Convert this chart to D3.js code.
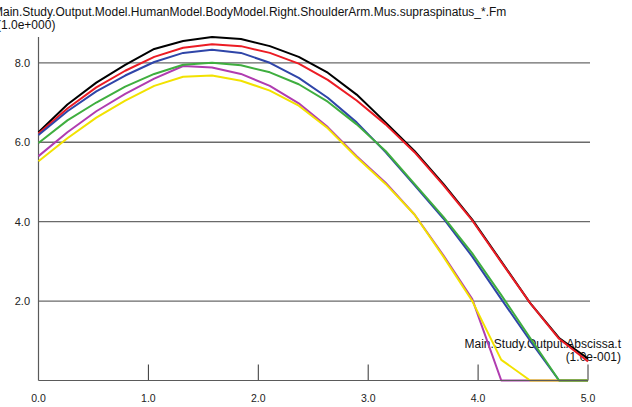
<!DOCTYPE html>
<html>
<head>
<meta charset="utf-8">
<script src="https://cdn.jsdelivr.net/npm/d3@7"></script>
<style>
  html, body { margin: 0; padding: 0; background: #fff; }
  svg { display: block; font-family: "Liberation Sans", Arial, sans-serif; }
</style>
</head>
<body>
<svg id="chart" width="632" height="407"></svg>
<script>
// Abscissa samples (units of 0.1 s)
const tValues = [0, 0.263, 0.526, 0.789, 1.053, 1.316, 1.579, 1.842, 2.105, 2.368,
                 2.632, 2.895, 3.158, 3.421, 3.684, 3.947, 4.211, 4.474, 4.737, 5.0];

// Muscle force traces, supraspinatus elements (1.0e+000)
const seriesBlack   = [6.25, 6.95, 7.50, 7.95, 8.35, 8.55, 8.65, 8.60, 8.42, 8.15,
                       7.75, 7.20, 6.50, 5.78, 4.95, 4.05, 3.00, 1.95, 1.07, 0.55];
const seriesRed     = [6.22, 6.85, 7.38, 7.80, 8.15, 8.38, 8.47, 8.42, 8.25, 7.98,
                       7.57, 7.05, 6.45, 5.75, 4.92, 4.03, 2.98, 1.95, 1.05, 0.48];
const seriesBlue    = [6.18, 6.78, 7.28, 7.68, 8.02, 8.25, 8.33, 8.25, 8.00, 7.62,
                       7.12, 6.50, 5.75, 4.92, 4.08, 3.12, 2.05, 1.00, 0, 0];
const seriesMagenta = [5.65, 6.25, 6.78, 7.22, 7.60, 7.92, 7.88, 7.72, 7.42, 6.98,
                       6.38, 5.65, 4.98, 4.18, 3.15, 2.05, 0, 0, 0, 0];
const seriesYellow  = [5.52, 6.10, 6.62, 7.05, 7.42, 7.65, 7.68, 7.55, 7.30, 6.92,
                       6.35, 5.62, 4.95, 4.18, 3.12, 2.00, 0.52, 0, 0, 0];
const seriesGreen   = [5.98, 6.55, 7.00, 7.40, 7.72, 7.95, 8.00, 7.94, 7.76, 7.46,
                       7.02, 6.45, 5.78, 4.95, 4.12, 3.20, 2.15, 1.07, 0, 0];

const seriesList = [
  { name: "black",   values: seriesBlack,   color: "#000000" },
  { name: "red",     values: seriesRed,     color: "#ec1c24" },
  { name: "blue",    values: seriesBlue,    color: "#2f45a8" },
  { name: "magenta", values: seriesMagenta, color: "#b03cb0" },
  { name: "yellow",  values: seriesYellow,  color: "#f2e200" },
  { name: "green",   values: seriesGreen,   color: "#3fae3f" }
];

const xTicks = [0, 1, 2, 3, 4, 5];
const yTicks = [2, 4, 6, 8];
const titleLines = ["Main.Study.Output.Model.HumanModel.BodyModel.Right.ShoulderArm.Mus.supraspinatus_*.Fm", "(1.0e+000)"];
const xLabelLines = ["Main.Study.Output.Abscissa.t", "(1.0e-001)"];

const yMax = d3.max(seriesList, s => d3.max(s.values));

const svg = d3.select("#chart");
const x = d3.scaleLinear().domain([0, 5]).range([38.5, 588]);
const y = d3.scaleLinear().domain([0, yMax]).range([380.5, 37]);

// horizontal grid
svg.append("g").selectAll("line").data(yTicks).join("line")
  .attr("x1", x(0)).attr("x2", x(5) + 2)
  .attr("y1", d => y(d)).attr("y2", d => y(d))
  .attr("stroke", "#6a6a6a").attr("stroke-width", 1.3);

// y axis
svg.append("line")
  .attr("x1", x(0)).attr("x2", x(0))
  .attr("y1", y(yMax)).attr("y2", y(0))
  .attr("stroke", "#5a5a5a").attr("stroke-width", 1.2);

svg.append("g").selectAll("text").data(yTicks).join("text")
  .attr("x", 30).attr("y", d => y(d) + 4)
  .attr("text-anchor", "end")
  .attr("font-size", 11).attr("fill", "#222")
  .text(d => d3.format(".1f")(d));

// x tick marks pointing up from the axis
svg.append("g").selectAll("line").data(xTicks.filter(d => d > 0)).join("line")
  .attr("x1", d => x(d)).attr("x2", d => x(d))
  .attr("y1", y(0)).attr("y2", y(0) - 16)
  .attr("stroke", "#333").attr("stroke-width", 1);

svg.append("g").selectAll("text").data(xTicks).join("text")
  .attr("x", d => x(d)).attr("y", 402)
  .attr("text-anchor", "middle")
  .attr("font-size", 10.5).attr("fill", "#222")
  .text(d => d3.format(".1f")(d));

// title, two lines
svg.append("g").selectAll("text").data(titleLines).join("text")
  .attr("x", (d, i) => i === 0 ? -7 : -3)
  .attr("y", (d, i) => 16 + i * 13)
  .attr("font-size", 12).attr("fill", "#111")
  .text(d => d);

// abscissa label
svg.append("g").selectAll("text").data(xLabelLines).join("text")
  .attr("x", 621).attr("y", (d, i) => 348 + i * 13)
  .attr("text-anchor", "end")
  .attr("font-size", 12).attr("fill", "#111")
  .text(d => d);

// curves
const line = d3.line()
  .x((d, i) => x(tValues[i]))
  .y(d => y(d));

svg.append("g").selectAll("path").data(seriesList).join("path")
  .attr("d", s => line(s.values))
  .attr("fill", "none")
  .attr("stroke", s => s.color)
  .attr("stroke-width", 2)
  .attr("stroke-linejoin", "round");

// x axis baseline
svg.append("line")
  .attr("x1", x(0)).attr("x2", x(5))
  .attr("y1", y(0)).attr("y2", y(0))
  .attr("stroke", "#5a5a5a").attr("stroke-width", 1);
</script>
</body>
</html>
